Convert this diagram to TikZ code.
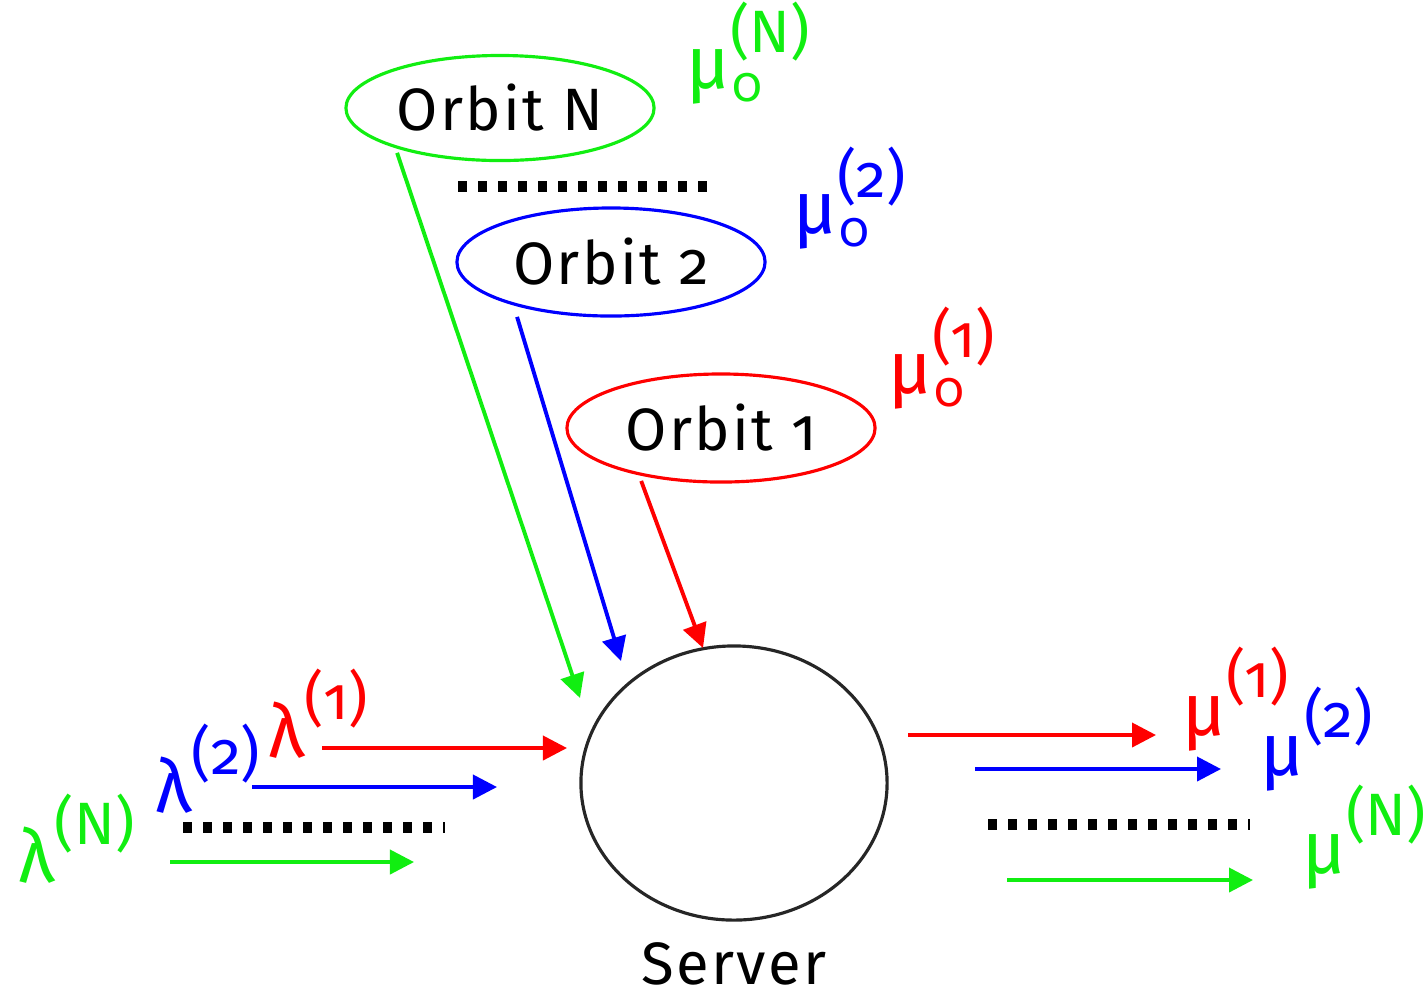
\documentclass[tikz,border=0pt]{standalone}
\usepackage{fontspec}
\setmainfont{Fira Sans}[Numbers=OldStyle]
\newfontfamily\orbfont{Fira Sans}[Numbers=OldStyle, LetterSpace=4]
\usepackage{xcolor}
\usepackage{tikz}
\usetikzlibrary{positioning,arrows.meta,shapes.geometric}
\definecolor{QRed}{HTML}{FF0000}
\definecolor{QBlue}{HTML}{0000FF}
\definecolor{QGreen}{HTML}{11EE11}
\newcommand{\bigsym}[1]{{\fontsize{21}{24}\selectfont #1}}
\newcommand{\retrate}[1]{\bigsym{μ}\rlap{\raisebox{-0.22em}{\fontsize{14}{16}\selectfont\kern0.05em 0}}\raisebox{0.6em}{(#1)}}
\newcommand{\flowrate}[2]{\bigsym{#1}\raisebox{0.62em}{(#2)}}
\tikzset{
  orbitbox/.style={ellipse, draw=#1, line width=0.9pt, minimum width=3.08cm, minimum height=1.08cm, inner sep=0pt, font=\orbfont\fontsize{17}{20}\selectfont, text=black},
  serverbox/.style={ellipse, draw=black!85, line width=0.9pt, minimum width=3.06cm, minimum height=2.74cm},
  flowarr/.style={-{Triangle[length=0.24cm,width=0.24cm]}, line width=1.1pt, draw=#1},
  dotrow/.style={line width=0.11cm, dash pattern=on 0.09cm off 0.11cm},
  ratelabel/.style={anchor=base west, inner sep=0pt, font=\fontsize{17}{20}\selectfont, text=#1}
}

\begin{document}
\begin{tikzpicture}[x=0.01cm, y=-0.01cm]
\useasboundingbox (0,0) rectangle (1428,996);
% orbits and server
\node[orbitbox=QGreen, minimum height=1.05cm] (orbN) at (500,108) {Orbit N};
\node[orbitbox=QBlue] (orb2) at (611,262) {Orbit 2};
\node[orbitbox=QRed] (orb1) at (721,428) {Orbit 1};
\node[serverbox] (srv) at (734,783) {};
\node[inner sep=0pt, font=\orbfont\fontsize{17}{20}\selectfont, below=0.2cm of srv] (srvlbl) {Server};
% retrial rates
\node[ratelabel=QGreen] (muoN) at (686,88) {\retrate{N}};
\node[ratelabel=QBlue] (muo2) at (793,233) {\retrate{2}};
\node[ratelabel=QRed] (muo1) at (888,393) {\retrate{1}};
% arrival and service rates
\node[ratelabel=QRed] (lam1) at (268,757) {\flowrate{λ}{1}};
\node[ratelabel=QBlue] (lam2) at (155,812) {\flowrate{λ}{2}};
\node[ratelabel=QGreen] (lamN) at (18,882) {\flowrate{λ}{N}};
\node[ratelabel=QRed] (mu1) at (1182,735) {\flowrate{μ}{1}};
\node[ratelabel=QBlue] (mu2) at (1260,775) {\flowrate{μ}{2}};
\node[ratelabel=QGreen] (muN) at (1302,873) {\flowrate{μ}{N}};
% arrow ends
\coordinate (hitN) at (580,698);
\coordinate (hit2) at (621,661);
\coordinate (hit1) at (703,648);
\coordinate (in1a) at (322,748); \coordinate (in1b) at (567,748);
\coordinate (in2a) at (252,787); \coordinate (in2b) at (497,787);
\coordinate (inNa) at (170,862); \coordinate (inNb) at (414,862);
\coordinate (out1a) at (908,735); \coordinate (out1b) at (1156,735);
\coordinate (out2a) at (975,769); \coordinate (out2b) at (1221,769);
\coordinate (outNa) at (1007,880); \coordinate (outNb) at (1253,880);
\coordinate (dotTa) at (458,186); \coordinate (dotTb) at (718,186);
\coordinate (dotLa) at (183,827); \coordinate (dotLb) at (445,827);
\coordinate (dotRa) at (988,824); \coordinate (dotRb) at (1250,824);
% retrials
\draw[flowarr=QGreen, shorten <=0.05cm] (orbN.201) -- (hitN);
\draw[flowarr=QBlue, shorten <=0.12cm] (orb2.204) -- (hit2);
\draw[flowarr=QRed, shorten <=0.06cm] (orb1.210.6) -- (hit1);
% arrivals and departures
\draw[flowarr=QRed] (in1a) -- (in1b);
\draw[flowarr=QBlue] (in2a) -- (in2b);
\draw[flowarr=QGreen] (inNa) -- (inNb);
\draw[flowarr=QRed] (out1a) -- (out1b);
\draw[flowarr=QBlue] (out2a) -- (out2b);
\draw[flowarr=QGreen] (outNa) -- (outNb);
\draw[dotrow] (dotTa) -- (dotTb);
\draw[dotrow] (dotLa) -- (dotLb);
\draw[dotrow] (dotRa) -- (dotRb);
\end{tikzpicture}
\end{document}
